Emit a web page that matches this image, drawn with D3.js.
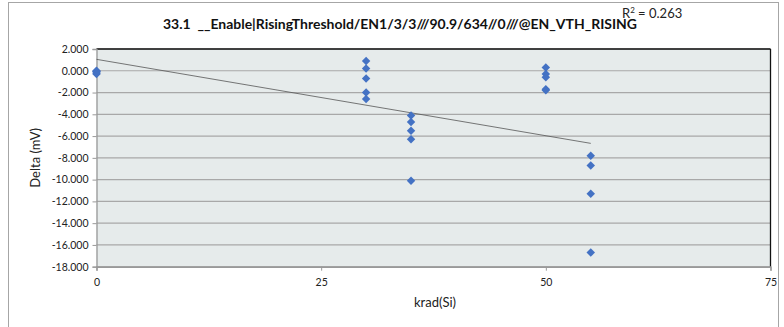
<!DOCTYPE html>
<html><head><meta charset="utf-8">
<script src="https://cdn.jsdelivr.net/npm/d3@7"></script>
<style>body{margin:0;background:#fff}svg{display:block}text{font-family:Lato,"Open Sans",sans-serif}</style>
</head><body>
<svg id="c" width="784" height="327"></svg>
<script>
// data
const krad = [0,0,0,0,0, 30,30,30,30,30, 35,35,35,35,35, 50,50,50,50,50, 55,55,55,55];
const delta = [0.0,-0.05,-0.1,-0.2,-0.3, 0.9,0.2,-0.7,-2.0,-2.6, -4.1,-4.7,-5.5,-6.3,-10.1, 0.3,-0.3,-0.6,-1.7,-1.8, -7.8,-8.7,-11.3,-16.7];
const yTicks = [2,0,-2,-4,-6,-8,-10,-12,-14,-16,-18];
const xTicks = [0,25,50,75];
const trendX = [0,55];
const trendY = [1.05,-6.67];
const titleText = "33.1  __Enable|RisingThreshold/EN1/3/3///90.9/634//0///@EN_VTH_RISING";
const r2Text = "0.263";

const svg = d3.select("#c");
const L=96.5, R=770.5, T=49, B=266.7;
const x = d3.scaleLinear().domain([0,75]).range([L,R]);
const y = d3.scaleLinear().domain([-18,2]).range([B,T]);

// outer border
svg.append("rect").attr("x",8.5).attr("y",2.5).attr("width",770).attr("height",330).attr("fill","none").attr("stroke","#a6a6a6").attr("stroke-width",1);

// plot background
svg.append("rect").attr("x",L).attr("y",T).attr("width",R-L).attr("height",B-T).attr("fill","#e6ebeb");

// grid
svg.append("g").selectAll("line").data(yTicks).join("line")
  .attr("x1",L).attr("x2",R).attr("y1",d=>y(d)).attr("y2",d=>y(d))
  .attr("stroke","#a8a8a8").attr("stroke-width",1.2);

// plot border top/right dark
svg.append("line").attr("x1",L).attr("x2",R).attr("y1",T).attr("y2",T).attr("stroke","#111").attr("stroke-width",1.3);
svg.append("line").attr("x1",R).attr("x2",R).attr("y1",T).attr("y2",B).attr("stroke","#111").attr("stroke-width",1.3);

// axes
const yAxis = d3.axisLeft(y).tickValues(yTicks).tickFormat(d3.format(".3f")).tickSize(4).tickPadding(4);
const gy = svg.append("g").attr("transform",`translate(${L},0)`).call(yAxis);
gy.select(".domain").attr("stroke","#999").attr("stroke-width",1.3);
gy.selectAll(".tick line").attr("stroke","#999");
gy.selectAll("text").attr("font-size",10.5).attr("fill","#222").text(d=>d3.format(".3f")(d).replace("−","-"));

const xAxis = d3.axisBottom(x).tickValues(xTicks).tickSize(4).tickPadding(8);
const gx = svg.append("g").attr("transform",`translate(0,${B})`).call(xAxis);
gx.select(".domain").attr("stroke","#999").attr("stroke-width",1.5);
gx.selectAll(".tick line").attr("stroke","#999");
gx.selectAll("text").attr("font-size",10.5).attr("fill","#222");

// trendline
svg.append("line").attr("x1",x(trendX[0])).attr("y1",y(trendY[0])).attr("x2",x(trendX[1])).attr("y2",y(trendY[1]))
  .attr("stroke","#555").attr("stroke-width",0.8);

// points (square rotated 45deg -> diamond)
const sym = d3.symbol().type(d3.symbolSquare).size(36);
svg.append("g").selectAll("path").data(krad.map((k,i)=>[k,delta[i]])).join("path")
  .attr("d",sym).attr("transform",d=>`translate(${x(d[0])},${y(d[1])}) rotate(45)`)
  .attr("fill","#4472c4");

// title
svg.append("text").attr("x",400).attr("y",29).attr("text-anchor","middle").attr("font-size",13).attr("font-weight","bold").attr("fill","#111")
  .style("white-space","pre").attr("textLength",474).attr("lengthAdjust","spacingAndGlyphs").text(titleText);
// R2
const r2 = svg.append("text").attr("x",622).attr("y",18).attr("font-size",13).attr("fill","#222");
r2.append("tspan").text("R");
r2.append("tspan").attr("font-size",8).attr("dy",-5).text("2");
r2.append("tspan").attr("dy",5).text(" = "+r2Text);

// axis titles
svg.append("text").attr("transform",`translate(40,${(T+B)/2}) rotate(-90)`).attr("text-anchor","middle").attr("font-size",13).attr("fill","#222").text("Delta (mV)");
svg.append("text").attr("x",435).attr("y",307).attr("text-anchor","middle").attr("font-size",13).attr("fill","#222").text("krad(Si)");
</script>
</body></html>
